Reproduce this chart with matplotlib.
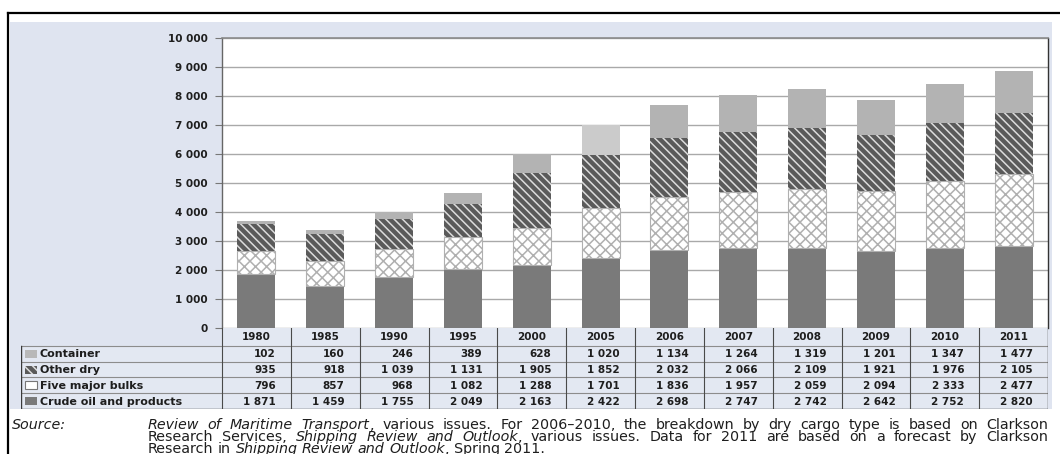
import numpy as np
import matplotlib
matplotlib.use("Agg")
import matplotlib.pyplot as plt
from matplotlib.patches import Rectangle
from matplotlib.lines import Line2D

# ---- data (million tons loaded) ----
years = ["1980", "1985", "1990", "1995", "2000", "2005",
         "2006", "2007", "2008", "2009", "2010", "2011"]
crude_oil = [1871, 1459, 1755, 2049, 2163, 2422, 2698, 2747, 2742, 2642, 2752, 2820]
five_major_bulks = [796, 857, 968, 1082, 1288, 1701, 1836, 1957, 2059, 2094, 2333, 2477]
other_dry = [935, 918, 1039, 1131, 1905, 1852, 2032, 2066, 2109, 1921, 1976, 2105]
container = [102, 160, 246, 389, 628, 1020, 1134, 1264, 1319, 1201, 1347, 1477]
series_names = ["Container", "Other dry", "Five major bulks", "Crude oil and products"]
y_ticks = [0, 1000, 2000, 3000, 4000, 5000, 6000, 7000, 8000, 9000, 10000]

plt.rcParams["hatch.linewidth"] = 1.1

W, H = 1060, 454
fig = plt.figure(figsize=(W / 100, H / 100), dpi=100)
fig.patch.set_facecolor("white")

BLUE = "#dfe4f0"
TXT = "#1e1e1e"
FONT = "DejaVu Sans"


def fx(px):
    return px / W


def fy(py):
    return 1 - py / H


def fmt(v):
    return f"{v:,}".replace(",", " ")


# panel background and frame
fig.patches.append(Rectangle((fx(10), fy(409)), fx(1052) - fx(10), fy(22) - fy(409),
                             transform=fig.transFigure, facecolor=BLUE, edgecolor="none",
                             zorder=-10))
fig.lines.append(Line2D([fx(8), fx(1060)], [fy(13), fy(13)], transform=fig.transFigure,
                        color="black", lw=1.6, zorder=-5))
fig.lines.append(Line2D([fx(8), fx(8)], [fy(13), fy(454)], transform=fig.transFigure,
                        color="black", lw=1.6, zorder=-5))

# ---- stacked bars ----
L, R, T, B = 222, 1048, 38, 328
ax = fig.add_axes([fx(L), fy(B), fx(R) - fx(L), fy(T) - fy(B)])
ax.set_facecolor("white")
x = np.arange(len(years))
bw = 0.55

crude = np.array(crude_oil)
bulks = np.array(five_major_bulks)
odry = np.array(other_dry)
cont = np.array(container)

STRIPES = "\\\\\\\\"

ax.bar(x, crude, bw, color="#7a7a7a", edgecolor="none", zorder=3)
ax.bar(x, bulks, bw, bottom=crude, facecolor="white", edgecolor="#b0b0b0",
       linewidth=0.8, hatch="xxx", zorder=3)
ax.bar(x, odry, bw, bottom=crude + bulks, facecolor="#5a5a5a", edgecolor="#dcdcdc",
       linewidth=0, hatch=STRIPES, zorder=3)
cont_colors = ["#cbcbcb" if yr == "2005" else "#b3b3b3" for yr in years]
ax.bar(x, cont, bw, bottom=crude + bulks + odry, color=cont_colors, edgecolor="none", zorder=3)

ax.set_xlim(-0.5, len(years) - 0.5)
ax.set_ylim(0, 10000)
ax.set_yticks(y_ticks)
ax.set_yticklabels([fmt(v) for v in y_ticks], fontsize=7.5, fontweight="bold",
                   color=TXT, family=FONT)
ax.set_xticks([])
ax.tick_params(axis="y", length=5, width=0.8, color="#777777", pad=5.5)
ax.grid(axis="y", color="#a9a9a9", lw=1.0, zorder=1)
ax.spines["left"].set_color("#666666")
ax.spines["left"].set_linewidth(1.0)
ax.spines["top"].set_color("#8a8a8a")
ax.spines["top"].set_linewidth(1.2)
ax.spines["right"].set_color("#333333")
ax.spines["right"].set_linewidth(1.0)
ax.spines["bottom"].set_visible(False)

# ---- data table ----
TL = 21
rows = [328, 346, 361.75, 377.5, 393.25, 409]
tab = fig.add_axes([fx(TL), fy(409), fx(R) - fx(TL), fy(328) - fy(409)])
tab.set_xlim(TL, R)
tab.set_ylim(409, 328)
tab.axis("off")

colw = (R - L) / len(years)
tab.add_patch(Rectangle((L, 328), R - L, 409 - 328, facecolor="#e3e8f2", edgecolor="none"))
tab.add_patch(Rectangle((TL, 346), L - TL, 409 - 346, facecolor="#e3e8f2", edgecolor="none"))
for yy in rows[1:-1]:
    tab.plot([TL, R], [yy, yy], color="#8c8c8c", lw=0.8)
tab.plot([TL, R], [409, 409], color="#3a3a3a", lw=1.0)
tab.plot([TL, TL], [346, 409], color="#3a3a3a", lw=1.0)
tab.plot([R, R], [328, 409], color="#333333", lw=1.0)
for i in range(len(years)):
    xl = L + i * colw
    tab.plot([xl, xl], [328, 409], color="#4a4a4a", lw=0.8)
    tab.text(xl + colw / 2, (rows[0] + rows[1]) / 2 + 0.5, years[i], ha="center", va="center",
             fontsize=7.5, fontweight="bold", color=TXT, family=FONT)

table_values = [container, other_dry, five_major_bulks, crude_oil]
icon_styles = [
    dict(facecolor="#b8b8b8", edgecolor="none"),
    dict(facecolor="#5a5a5a", edgecolor="#dcdcdc", hatch=STRIPES, linewidth=0),
    dict(facecolor="white", edgecolor="#777777", linewidth=0.8),
    dict(facecolor="#7a7a7a", edgecolor="none"),
]
for r, (name, vals, st) in enumerate(zip(series_names, table_values, icon_styles)):
    y0, y1 = rows[r + 1], rows[r + 2]
    yc = (y0 + y1) / 2
    tab.add_patch(Rectangle((25, yc - 4), 12, 8, **st))
    tab.text(40, yc + 0.5, name, ha="left", va="center", fontsize=8, fontweight="bold",
             color=TXT, family=FONT)
    for i, v in enumerate(vals):
        tab.text(L + (i + 1) * colw - 15, yc + 0.5, fmt(v), ha="right", va="center",
                 fontsize=7.5, fontweight="bold", color=TXT, family=FONT)

# ---- source note (justified lines) ----
NOTE_FS = 10.3
fig.text(fx(12), fy(429), "Source:", fontsize=NOTE_FS, style="italic", color=TXT,
         family=FONT, ha="left", va="baseline")

note_lines = [
    [("Review of Maritime Transport", True),
     (", various issues. For 2006\u20132010, the breakdown by dry cargo type is based on Clarkson", False)],
    [("Research Services, ", False), ("Shipping Review and Outlook", True),
     (", various issues. Data for 2011 are based on a forecast by Clarkson", False)],
    [("Research in ", False), ("Shipping Review and Outlook", True), (", Spring 2011.", False)],
]
baselines = [429, 441, 453]
renderer = fig.canvas.get_renderer()


def tokens_of(segments):
    toks = []
    pending_space = False
    for text, ital in segments:
        parts = text.split(" ")
        for j, w in enumerate(parts):
            if j > 0:
                pending_space = True
            if w == "":
                continue
            toks.append([w, ital, pending_space and len(toks) > 0])
            pending_space = False
        if text.endswith(" "):
            pending_space = True
    return toks


space_probe = fig.text(0, 0, "a a", fontsize=NOTE_FS, family=FONT)
aa_probe = fig.text(0, 0, "aa", fontsize=NOTE_FS, family=FONT)
space_w = (space_probe.get_window_extent(renderer).width
           - aa_probe.get_window_extent(renderer).width)
space_probe.remove()
aa_probe.remove()

x_start, x_end = 148, 1048
for k, (segs, bl) in enumerate(zip(note_lines, baselines)):
    toks = tokens_of(segs)
    arts, widths = [], []
    for w, ital, _ in toks:
        t = fig.text(0, fy(bl), w, fontsize=NOTE_FS, style="italic" if ital else "normal",
                     color=TXT, family=FONT, ha="left", va="baseline")
        arts.append(t)
        widths.append(t.get_window_extent(renderer).width)
    nspace = sum(1 for tk in toks if tk[2])
    natural = sum(widths) + nspace * space_w
    gap = space_w
    if k < len(note_lines) - 1 and nspace > 0:
        gap = space_w + (x_end - x_start - natural) / nspace
    cur = x_start
    for t, wdt, tk in zip(arts, widths, toks):
        if tk[2]:
            cur += gap
        t.set_x(fx(cur))
        cur += wdt

fig.savefig("out.png", dpi=100, facecolor="white")
